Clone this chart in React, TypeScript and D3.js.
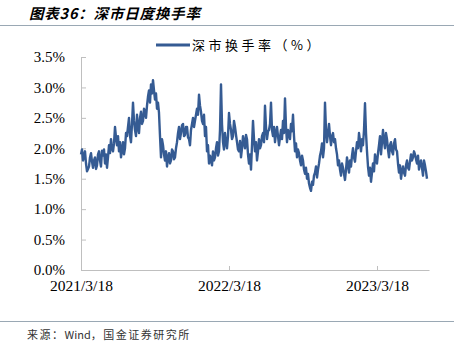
import { useEffect, useRef } from 'react';
import * as d3 from 'd3';

// 深市日度换手率 (%), every other trading day from 2021/3/18
const turnover = [
    1.90, 1.98, 1.80, 1.88, 1.95, 1.75, 1.62, 1.66, 1.70, 1.85,
    1.92, 1.78, 1.68, 1.80, 1.85, 1.66, 1.72, 1.90, 1.95, 1.80,
    1.70, 1.96, 1.88, 1.98, 1.75, 1.90, 1.68, 1.85, 2.05, 1.92,
    2.15, 2.00, 1.95, 2.08, 2.35, 2.18, 2.05, 2.20, 1.95, 2.10,
    1.85, 1.98, 2.10, 1.90, 2.00, 2.25, 2.20, 2.35, 2.50, 2.20,
    2.10, 2.40, 2.75, 2.45, 2.30, 2.20, 2.55, 2.35, 2.25, 2.50,
    2.60, 2.40, 2.45, 2.65, 2.62, 2.50, 2.70, 2.85, 2.95, 2.75,
    3.05, 2.90, 3.12, 2.95, 2.80, 2.90, 2.65, 2.75, 2.58, 2.20,
    1.85, 2.15, 2.05, 1.90, 1.80, 1.95, 1.70, 1.85, 1.92, 1.75,
    1.80, 1.98, 1.95, 1.82, 1.85, 2.00, 2.10, 2.25, 2.35, 2.15,
    2.25, 2.38, 2.40, 2.20, 2.22, 2.35, 2.35, 2.18, 2.15, 2.05,
    2.30, 2.40, 2.50, 2.35, 2.45, 2.55, 2.65, 2.55, 2.88, 2.70,
    2.60, 2.45, 2.40, 2.55, 2.20, 2.35, 1.95, 2.05, 1.75, 1.88,
    1.80, 1.72, 1.95, 1.80, 1.85, 2.00, 2.10, 1.88, 1.95, 2.30,
    3.05, 2.40, 2.10, 1.98, 2.25, 2.10, 2.00, 2.20, 2.58, 2.40,
    2.30, 2.15, 2.20, 2.45, 2.35, 2.22, 2.10, 1.98, 1.95, 2.12,
    1.85, 2.00, 2.20, 2.10, 2.00, 2.22, 2.15, 1.90, 1.75, 1.90,
    1.65, 2.05, 2.45, 2.15, 1.95, 2.10, 1.80, 1.95, 2.15, 2.00,
    2.05, 2.20, 2.25, 2.10, 2.70, 2.35, 2.15, 2.28, 2.30, 2.40,
    2.75, 2.30, 2.20, 2.35, 2.10, 2.25, 2.35, 2.20, 2.05, 2.18,
    2.30, 2.15, 2.45, 2.25, 2.82, 2.35, 2.10, 2.30, 2.25, 2.15,
    2.40, 2.28, 2.55, 2.20, 1.95, 2.08, 1.85, 1.98, 1.92, 1.80,
    1.72, 1.88, 1.80, 1.65, 1.58, 1.68, 1.50, 1.58, 1.42, 1.35,
    1.30, 1.45, 1.40, 1.55, 1.60, 1.70, 1.52, 1.65, 1.75, 1.88,
    1.95, 2.08, 1.85, 2.00, 2.75, 2.30, 2.10, 2.25, 2.40, 2.20,
    2.05, 2.20, 2.25, 2.10, 2.15, 2.00, 1.90, 1.72, 1.80, 1.65,
    1.55, 1.75, 1.68, 1.58, 1.48, 1.65, 1.85, 1.72, 1.60, 1.80,
    1.70, 1.88, 2.00, 1.85, 1.78, 1.95, 2.10, 2.00, 2.25, 2.12,
    1.95, 2.15, 2.05, 2.30, 2.74, 2.25, 1.95, 1.70, 1.55, 1.68,
    1.45, 1.60, 1.75, 1.62, 1.90, 1.80, 1.75, 1.92, 2.05, 2.20,
    1.90, 2.10, 2.30, 2.12, 2.00, 2.25, 2.15, 1.98, 1.85, 2.05,
    2.10, 1.95, 1.90, 2.08, 2.15, 1.98, 1.95, 1.75, 1.60, 1.72,
    1.50, 1.62, 1.70, 1.60, 1.55, 1.72, 1.80, 1.68, 1.65, 1.78,
    1.90, 1.80, 1.85, 1.95, 1.90, 1.82, 1.75, 1.88, 1.65, 1.75,
    1.80, 1.68, 1.55, 1.80, 1.72, 1.62, 1.50,
];

const xTickIndex = [0, 148, 296];
const xTickLabels = ['2021/3/18', '2022/3/18', '2023/3/18'];
const yTicks = [0, 0.5, 1.0, 1.5, 2.0, 2.5, 3.0, 3.5];

const LINE_COLOR = '#355b93';
const AXIS_COLOR = '#bfbfbf';
const SERIF = '"Liberation Serif", "Times New Roman", serif';
const CJK = '"Noto Sans CJK SC", sans-serif';

export default function App() {
    const svgRef = useRef<SVGSVGElement>(null);
    const width = 454;
    const height = 353;

    useEffect(() => {
        if (!svgRef.current) return;
        const svg = d3.select(svgRef.current);
        svg.selectAll('*').remove();

        const left = 81, right = 429, top = 57, bottom = 270;

        const x = d3.scaleLinear().domain([0, turnover.length + 1]).range([left, right]);
        const y = d3.scaleLinear().domain([0, 3.5]).range([bottom, top]);

        // title + rules
        svg.append('text')
            .attr('x', 29).attr('y', 19)
            .attr('font-family', CJK)
            .attr('font-size', 14.5)
            .attr('font-weight', 'bold')
            .attr('font-style', 'italic')
            .attr('letter-spacing', 0.8)
            .attr('fill', '#000')
            .text('图表36：深市日度换手率');
        svg.append('line')
            .attr('x1', 0).attr('x2', width).attr('y1', 25.5).attr('y2', 25.5)
            .attr('stroke', '#9aa8b4').attr('stroke-width', 1);
        svg.append('line')
            .attr('x1', 0).attr('x2', width).attr('y1', 321.5).attr('y2', 321.5)
            .attr('stroke', '#9aa8b4').attr('stroke-width', 1);

        const source = svg.append('text')
            .attr('x', 27).attr('y', 339)
            .attr('font-family', CJK)
            .attr('font-size', 11)
            .attr('fill', '#333');
        source.append('tspan').attr('letter-spacing', 1.5).text('来源：');
        source.append('tspan').text('Wind');
        source.append('tspan').attr('letter-spacing', 1.5).text('，国金证券研究所');

        // y axis
        const yAxis = svg.append('g')
            .attr('transform', `translate(${left},0)`)
            .call(d3.axisLeft(y).tickValues(yTicks).tickSizeInner(-5).tickSizeOuter(0).tickPadding(16)
                .tickFormat(d => `${(+d).toFixed(1)}%`));
        yAxis.select('.domain').attr('stroke', AXIS_COLOR);
        yAxis.selectAll('.tick line').attr('stroke', AXIS_COLOR);
        yAxis.selectAll('text')
            .attr('font-family', SERIF)
            .attr('font-size', 15)
            .attr('fill', '#000');

        // x axis
        const xAxis = svg.append('g')
            .attr('transform', `translate(0,${bottom})`)
            .call(d3.axisBottom(x).tickValues(xTickIndex).tickSizeInner(-4).tickSizeOuter(0).tickPadding(10)
                .tickFormat((d, i) => xTickLabels[i]));
        xAxis.select('.domain').attr('stroke', AXIS_COLOR);
        xAxis.selectAll('.tick line').attr('stroke', AXIS_COLOR);
        xAxis.selectAll('text')
            .attr('font-family', SERIF)
            .attr('font-size', 15.5)
            .attr('fill', '#000');

        // series
        const line = d3.line<number>()
            .x((d, i) => x(i))
            .y(d => y(d));
        svg.append('path')
            .datum(turnover)
            .attr('fill', 'none')
            .attr('stroke', LINE_COLOR)
            .attr('stroke-width', 2.4)
            .attr('stroke-linejoin', 'round')
            .attr('d', line);

        // legend
        svg.append('line')
            .attr('x1', 156).attr('x2', 190).attr('y1', 45).attr('y2', 45)
            .attr('stroke', LINE_COLOR).attr('stroke-width', 3);
        svg.append('text')
            .attr('x', 192).attr('y', 50)
            .attr('font-family', CJK)
            .attr('font-size', 13)
            .attr('letter-spacing', 3.5)
            .attr('fill', '#000')
            .text('深市换手率（%）');
    }, []);

    return (
        <svg
            ref={svgRef}
            width={width}
            height={height}
            style={{ position: 'absolute', left: 0, top: 0, background: '#fff' }}
        />
    );
}
